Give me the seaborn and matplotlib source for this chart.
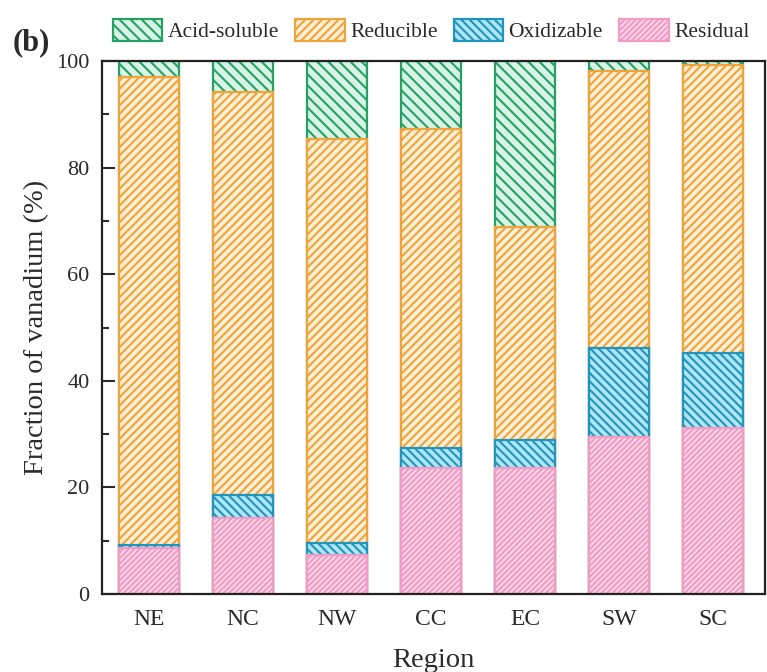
import numpy as np
import pandas as pd
import seaborn as sns
import matplotlib.pyplot as plt
from matplotlib.patches import Patch

# fractions of vanadium (%) per region
regions = ['NE', 'NC', 'NW', 'CC', 'EC', 'SW', 'SC']
residual = [8.6, 14.2, 7.3, 23.7, 23.6, 29.5, 31.1]
oxidizable = [0.6, 4.4, 2.3, 3.7, 5.3, 16.7, 14.1]
reducible = [87.8, 75.6, 75.8, 59.8, 40.0, 52.0, 54.0]
acid_soluble = [3.0, 5.8, 14.6, 12.8, 31.1, 1.8, 0.8]

sns.set_style('ticks')
plt.rcParams['font.family'] = ['Liberation Serif', 'DejaVu Serif']
plt.rcParams['hatch.linewidth'] = 1.5
plt.rcParams['text.color'] = '#2a2a2a'
plt.rcParams['axes.labelcolor'] = '#2a2a2a'
plt.rcParams['xtick.color'] = '#2a2a2a'
plt.rcParams['ytick.color'] = '#2a2a2a'

df = pd.DataFrame({'Region': regions, 'Residual': residual, 'Oxidizable': oxidizable,
                   'Reducible': reducible, 'Acid-soluble': acid_soluble})

# (fraction, face, edge/hatch colour, hatch)  bottom -> top
layers = [
    ('Residual', '#fcd8e9', '#f09cc4', '//////'),
    ('Oxidizable', '#aee6f4', '#2394bb', '\\\\\\\\'),
    ('Reducible', '#fdeed6', '#eea43a', '////'),
    ('Acid-soluble', '#d8f4e7', '#26a063', '\\\\\\'),
]

# stacked by drawing cumulative totals, tallest first
names = [l[0] for l in layers]
cum = df[names].cumsum(axis=1)
cum['Region'] = df['Region']

fig = plt.figure(figsize=(7.67, 6.72), dpi=100)
ax = fig.add_axes([0.133, 0.116, 0.864, 0.793])

for name, face, edge, hatch in layers[::-1]:
    sns.barplot(data=cum, x='Region', y=name, width=0.63, color=face, saturation=1,
                edgecolor=edge, hatch=hatch, linewidth=1.6, ax=ax)

ax.set_ylim(0, 100)
ax.set_xlim(-0.5, 6.55)
ax.set_yticks([0, 20, 40, 60, 80, 100])
ax.set_yticks([10, 30, 50, 70, 90], minor=True)
ax.tick_params(axis='y', which='major', direction='in', length=9, width=1.5, labelsize=16, pad=9)
ax.tick_params(axis='y', which='minor', direction='in', length=5, width=1.5)
ax.tick_params(axis='x', length=0, labelsize=17, pad=11)
for sp in ax.spines.values():
    sp.set_linewidth(1.6)
    sp.set_color('#222222')

ax.set_ylabel('Fraction of vanadium (%)', fontsize=20.5, labelpad=5)
ax.set_xlabel('Region', fontsize=20.5, labelpad=13)

handles = [Patch(facecolor=f, edgecolor=e, hatch=h, linewidth=1.6, label=n)
           for n, f, e, h in layers[::-1]]
ax.legend(handles=handles, loc='center left', bbox_to_anchor=(0.147, 0.955),
          bbox_transform=fig.transFigure, ncol=4, frameon=False, fontsize=15.5,
          handlelength=2.3, handleheight=1.2, handletextpad=0.25,
          columnspacing=0.75, borderpad=0, borderaxespad=0)

fig.text(0.016, 0.937, '(b)', fontsize=22, fontweight='bold', va='center')

fig.savefig('out.png', dpi=100)
